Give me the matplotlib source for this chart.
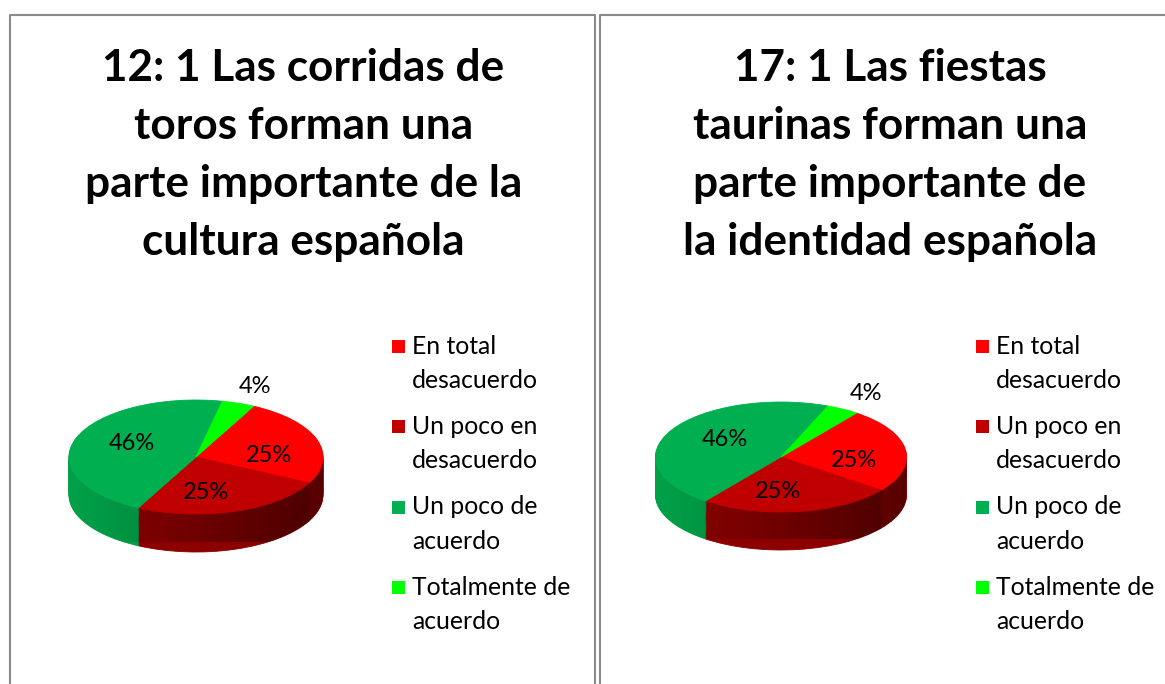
import matplotlib.pyplot as plt
import numpy as np
from matplotlib.patches import Rectangle, Polygon

categories = ["En total\ndesacuerdo", "Un poco en\ndesacuerdo",
              "Un poco de\nacuerdo", "Totalmente de\nacuerdo"]
values_12 = [6, 6, 11, 1]
values_17 = [6, 6, 11, 1]
titles = ["12: 1 Las corridas de\ntoros forman una\nparte importante de la\ncultura española",
          "17: 1 Las fiestas\ntaurinas forman una\nparte importante de\nla identidad española"]

top_colors = ['#ff0000', '#c00000', '#00b050', '#00ff00']
side_colors = ['#a80000', '#8c0000', '#00a048', '#00d000']

W, H = 1165, 684
fig = plt.figure(figsize=(W / 100, H / 100), dpi=100)
fig.patch.set_facecolor('white')
plt.rcParams['font.family'] = ['Lato', 'DejaVu Sans']


def fx(px):
    return px / W


def fy(py):
    return 1 - py / H


def draw_pie(cx, cy, rx, ry, depth_px, values, start):
    ax = fig.add_axes([fx(cx - 1.5 * rx), fy(cy + 1.5 * ry), 3 * rx / W, 3 * ry / H])
    d = depth_px / ry
    n = 40
    # side wall: stacked pies
    for k in range(n):
        off = -d * (1 - k / n)
        ws, _ = ax.pie(values, colors=side_colors, startangle=start, counterclock=False,
                       center=(0, off), radius=1, wedgeprops=dict(linewidth=0.6))
        for w in ws:
            w.set_edgecolor(w.get_facecolor())
            w.set_zorder(1)
    # shading on the side, darker to the right
    theta = np.linspace(np.pi, 2 * np.pi, 200)
    band = np.concatenate([np.c_[np.cos(theta), np.sin(theta)],
                           np.c_[np.cos(theta[::-1]), np.sin(theta[::-1]) - d]])
    poly = Polygon(band, closed=True, transform=ax.transData,
                   facecolor='none', edgecolor='none')
    ax.add_patch(poly)
    grad = np.zeros((2, 256, 4))
    grad[..., 3] = np.linspace(0.0, 0.55, 256) ** 1.2
    im = ax.imshow(grad, extent=(-1, 1, -1 - d, 0), aspect='auto', zorder=1.5)
    im.set_clip_path(poly)
    # top face
    wedges, texts, autotexts = ax.pie(
        values, colors=top_colors, startangle=start, counterclock=False,
        autopct='%1.0f%%', pctdistance=0.58, wedgeprops=dict(linewidth=0.6),
        textprops=dict(fontsize=17, color='black'))
    for w in wedges:
        w.set_edgecolor(w.get_facecolor())
        w.set_zorder(2)
    for t in autotexts:
        t.set_zorder(3)
    # labels sit a little clockwise of the slice middle in the tilted view
    rot = np.deg2rad(-10)
    for t in autotexts[:3]:
        x, y = t.get_position()
        t.set_position((x * np.cos(rot) - y * np.sin(rot), x * np.sin(rot) + y * np.cos(rot) - 0.05))
    # small slice label outside
    total = sum(values)
    mid = np.deg2rad(start - 360 * (np.cumsum(values)[-1] - values[-1] / 2) / total)
    autotexts[-1].set_position((1.38 * np.cos(mid), 1.32 * np.sin(mid)))
    ax.set_aspect('auto')
    ax.set_xlim(-1.5, 1.5)
    ax.set_ylim(-1.5, 1.5)
    ax.axis('off')
    return ax


def draw_legend(x0, y0):
    for i, (lab, col) in enumerate(zip(categories, top_colors)):
        yy = y0 + i * 80.5
        fig.add_artist(Rectangle((fx(x0), fy(yy + 6.5)), 13 / W, 13 / H,
                                 transform=fig.transFigure, facecolor=col, edgecolor='none'))
        fig.text(fx(x0 + 20), fy(yy - 11.5), lab, fontsize=17.8, va='top', ha='left',
                 linespacing=1.58, color='black')


def draw_panel(x0, x1, title, values, pie_c, start, legend_x):
    # panel border
    fig.add_artist(plt.Line2D([fx(x0), fx(x0), fx(x1), fx(x1)],
                              [fy(H + 5), fy(15), fy(15), fy(H + 5)],
                              transform=fig.transFigure, color='#8a8a8a', lw=1.5))
    fig.text(fx((x0 + x1) / 2 + 1), fy(155), title, fontsize=31.8, fontweight='bold',
             ha='center', va='center', multialignment='center', linespacing=1.55)
    draw_pie(pie_c[0], pie_c[1], pie_c[2], pie_c[3], 38, values, start)
    draw_legend(legend_x, 346)


draw_panel(10, 595, titles[0], values_12, (196, 457, 127, 57), 63, 392)
draw_panel(600, 1178, titles[1], values_17, (781, 457, 125.5, 55), 53, 976)

fig.savefig('out.png', dpi=100)
